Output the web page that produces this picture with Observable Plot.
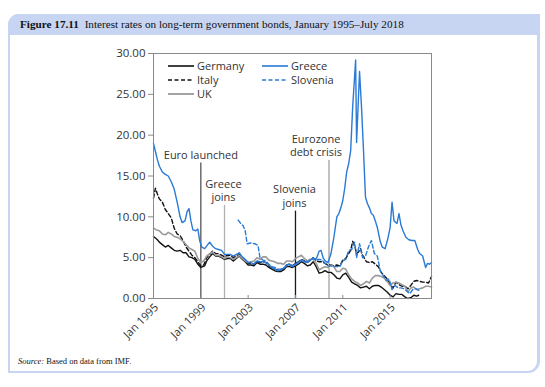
<!DOCTYPE html>
<html><head><meta charset="utf-8">
<script src="https://cdn.jsdelivr.net/npm/d3@7"></script>
<script src="https://cdn.jsdelivr.net/npm/@observablehq/plot@0.6"></script>
<style>
body{margin:0;background:#fff;width:545px;height:387px;position:relative;overflow:hidden;font-family:"Open Sans",sans-serif}
#box{position:absolute;left:8px;top:14px;width:532px;height:359px;border:2px solid #c8d5f2;border-right-width:3px;border-radius:11px 0 12px 0;box-sizing:border-box}
#head{position:absolute;left:8px;top:14px;width:532px;height:21px;background:#c8d5f2;border-radius:11px 0 0 0;font-family:"Liberation Serif",serif;font-size:11.2px;line-height:21px;color:#111;box-sizing:border-box;padding-left:12px;white-space:nowrap}
#head b{margin-right:3px}
#chart{position:absolute;left:0;top:35px}
#legend{position:absolute;left:0;top:0}
#source{position:absolute;left:18px;top:356px;font-family:"Liberation Serif",serif;font-size:8.5px;color:#111}
</style></head>
<body>
<div id="box"></div>
<div id="head"><b>Figure 17.11</b> Interest rates on long-term government bonds, January 1995–July 2018</div>
<div id="chart"></div>
<div id="source"><i>Source:</i> Based on data from IMF.</div>
<script>
const germany = [["1995-01",7.6],["1995-03",7.4],["1995-05",7.2],["1995-07",6.9],["1995-10",6.6],["1996-01",6.3],["1996-04",6.5],["1996-07",6.2],["1996-10",5.9],["1997-01",5.8],["1997-04",5.9],["1997-07",5.6],["1997-10",5.6],["1998-01",5.1],["1998-04",5.0],["1998-07",4.8],["1998-10",4.2],["1999-01",3.8],["1999-03",3.9],["1999-05",4.0],["1999-07",4.6],["1999-10",5.1],["2000-01",5.5],["2000-04",5.2],["2000-07",5.2],["2000-10",5.0],["2001-01",4.8],["2001-04",4.9],["2001-07",4.9],["2001-10",4.6],["2002-01",4.9],["2002-04",5.2],["2002-07",4.8],["2002-10",4.5],["2003-01",4.1],["2003-04",4.1],["2003-07",4.0],["2003-10",4.4],["2004-01",4.2],["2004-04",4.2],["2004-07",4.1],["2004-10",3.8],["2005-01",3.6],["2005-04",3.4],["2005-07",3.3],["2005-10",3.3],["2006-01",3.5],["2006-04",3.9],["2006-07",3.9],["2006-10",3.8],["2007-01",4.0],["2007-04",4.2],["2007-07",4.5],["2007-10",4.3],["2008-01",4.0],["2008-04",4.1],["2008-07",4.5],["2008-10",3.9],["2009-01",3.1],["2009-04",3.2],["2009-07",3.4],["2009-10",3.2],["2010-01",3.2],["2010-04",2.9],["2010-07",2.5],["2010-10",2.4],["2011-01",2.9],["2011-04",3.1],["2011-07",2.6],["2011-10",2.0],["2012-01",1.8],["2012-04",1.6],["2012-07",1.3],["2012-10",1.4],["2013-01",1.5],["2013-04",1.2],["2013-07",1.5],["2013-10",1.6],["2014-01",1.6],["2014-04",1.4],["2014-07",1.1],["2014-10",0.8],["2015-01",0.4],["2015-04",0.2],["2015-07",0.6],["2015-10",0.5],["2016-01",0.5],["2016-04",0.2],["2016-07",0.0],["2016-10",0.1],["2017-01",0.4],["2017-04",0.3],["2017-06",0.4]];

const italy = [["1995-01",12.3],["1995-03",13.5],["1995-05",12.8],["1995-07",12.2],["1995-10",11.8],["1996-01",10.9],["1996-04",10.4],["1996-07",9.9],["1996-10",8.6],["1997-01",7.9],["1997-04",7.7],["1997-07",7.1],["1997-10",6.3],["1998-01",5.8],["1998-04",5.3],["1998-07",5.0],["1998-10",4.5],["1999-01",4.0],["1999-04",4.1],["1999-07",5.0],["1999-10",5.4],["2000-01",5.8],["2000-04",5.5],["2000-07",5.5],["2000-10",5.3],["2001-01",5.1],["2001-04",5.3],["2001-07",5.3],["2001-10",5.0],["2002-01",5.2],["2002-04",5.4],["2002-07",5.0],["2002-10",4.7],["2003-01",4.3],["2003-04",4.3],["2003-07",4.2],["2003-10",4.6],["2004-01",4.4],["2004-04",4.5],["2004-07",4.4],["2004-10",4.0],["2005-01",3.8],["2005-04",3.6],["2005-07",3.5],["2005-10",3.5],["2006-01",3.7],["2006-04",4.1],["2006-07",4.2],["2006-10",4.0],["2007-01",4.3],["2007-04",4.5],["2007-07",4.8],["2007-10",4.6],["2008-01",4.4],["2008-04",4.7],["2008-07",5.0],["2008-10",4.6],["2009-01",4.5],["2009-04",4.5],["2009-07",4.3],["2009-10",4.1],["2010-01",4.1],["2010-04",4.0],["2010-07",4.1],["2010-10",4.0],["2011-01",4.7],["2011-04",4.9],["2011-07",5.5],["2011-09",5.9],["2011-11",7.0],["2012-01",6.5],["2012-03",5.5],["2012-05",5.7],["2012-07",6.1],["2012-09",5.3],["2012-11",4.9],["2013-01",4.5],["2013-04",4.4],["2013-07",4.5],["2013-10",4.2],["2014-01",3.9],["2014-04",3.2],["2014-07",2.8],["2014-10",2.4],["2015-01",1.7],["2015-04",1.3],["2015-07",2.0],["2015-10",1.7],["2016-01",1.5],["2016-04",1.5],["2016-07",1.2],["2016-10",1.6],["2017-01",2.1],["2017-04",2.2],["2017-07",2.1],["2017-10",2.0],["2018-01",2.0],["2018-04",1.9],["2018-07",2.7]];

const uk = [["1995-01",8.6],["1995-04",8.4],["1995-07",8.3],["1995-10",7.9],["1996-01",7.8],["1996-04",8.1],["1996-07",7.9],["1996-10",7.6],["1997-01",7.5],["1997-04",7.3],["1997-07",7.0],["1997-10",6.6],["1998-01",6.2],["1998-04",6.0],["1998-07",5.8],["1998-10",4.9],["1999-01",4.4],["1999-04",4.6],["1999-07",5.2],["1999-10",5.5],["2000-01",5.7],["2000-04",5.3],["2000-07",5.3],["2000-10",5.1],["2001-01",4.9],["2001-04",5.1],["2001-07",5.0],["2001-10",4.8],["2002-01",5.0],["2002-04",5.3],["2002-07",4.9],["2002-10",4.6],["2003-01",4.4],["2003-04",4.5],["2003-07",4.6],["2003-10",5.0],["2004-01",4.8],["2004-04",5.1],["2004-07",5.1],["2004-10",4.7],["2005-01",4.6],["2005-04",4.5],["2005-07",4.3],["2005-10",4.3],["2006-01",4.2],["2006-04",4.6],["2006-07",4.6],["2006-10",4.5],["2007-01",4.9],["2007-04",5.1],["2007-07",5.3],["2007-10",4.9],["2008-01",4.6],["2008-04",4.8],["2008-07",4.8],["2008-10",4.3],["2009-01",3.5],["2009-04",3.7],["2009-07",3.9],["2009-10",3.8],["2010-01",4.1],["2010-04",3.9],["2010-07",3.3],["2010-10",3.3],["2011-01",3.7],["2011-04",3.6],["2011-07",2.9],["2011-10",2.4],["2012-01",2.1],["2012-04",1.9],["2012-07",1.6],["2012-10",1.8],["2013-01",2.1],["2013-04",1.9],["2013-07",2.5],["2013-10",2.8],["2014-01",2.8],["2014-04",2.7],["2014-07",2.5],["2014-10",2.1],["2015-01",1.6],["2015-04",1.9],["2015-07",2.0],["2015-10",1.9],["2016-01",1.7],["2016-04",1.5],["2016-07",0.8],["2016-10",1.3],["2017-01",1.4],["2017-04",1.1],["2017-07",1.2],["2017-10",1.3],["2018-01",1.5],["2018-04",1.5],["2018-07",1.4]];

const greece = [["1995-01",19.0],["1995-03",18.0],["1995-05",17.0],["1995-07",16.2],["1995-10",15.5],["1996-01",15.2],["1996-04",15.0],["1996-07",14.3],["1996-10",13.4],["1997-01",11.8],["1997-04",10.0],["1997-06",9.3],["1997-09",9.5],["1997-11",10.6],["1998-01",11.0],["1998-03",9.5],["1998-05",8.4],["1998-08",8.3],["1998-10",8.5],["1998-12",7.0],["1999-02",6.3],["1999-05",6.1],["1999-08",6.6],["1999-10",6.9],["2000-01",6.4],["2000-04",6.1],["2000-07",6.0],["2000-10",5.9],["2001-01",5.4],["2001-04",5.4],["2001-07",5.4],["2001-10",5.2],["2002-01",5.4],["2002-04",5.6],["2002-07",5.1],["2002-10",4.8],["2003-01",4.4],["2003-04",4.4],["2003-07",4.2],["2003-10",4.6],["2004-01",4.5],["2004-04",4.5],["2004-07",4.4],["2004-10",4.1],["2005-01",3.8],["2005-04",3.6],["2005-07",3.4],["2005-10",3.5],["2006-01",3.7],["2006-04",4.1],["2006-07",4.2],["2006-10",4.0],["2007-01",4.2],["2007-04",4.5],["2007-07",4.7],["2007-10",4.5],["2008-01",4.4],["2008-04",4.7],["2008-07",4.9],["2008-10",4.8],["2009-01",5.8],["2009-03",5.9],["2009-05",5.0],["2009-07",4.6],["2009-10",4.4],["2010-01",5.5],["2010-04",7.5],["2010-07",10.0],["2010-09",10.4],["2010-11",11.1],["2011-01",12.0],["2011-03",13.5],["2011-05",15.5],["2011-07",16.5],["2011-09",18.1],["2011-11",23.4],["2012-02",29.2],["2012-03",19.1],["2012-06",27.8],["2012-08",23.4],["2012-10",18.1],["2012-12",12.4],["2013-02",11.6],["2013-04",11.1],["2013-06",10.4],["2013-08",10.2],["2013-10",9.5],["2013-12",8.7],["2014-03",7.0],["2014-05",6.3],["2014-08",6.1],["2014-11",7.5],["2015-01",8.7],["2015-03",11.8],["2015-05",9.5],["2015-08",9.2],["2015-10",10.4],["2015-12",9.0],["2016-02",8.3],["2016-05",7.5],["2016-08",7.2],["2016-11",7.1],["2017-02",7.1],["2017-05",6.0],["2017-07",5.5],["2017-10",5.2],["2018-01",3.8],["2018-03",4.3],["2018-05",4.2],["2018-07",4.4]];

const slovenia = [["2002-03",9.6],["2002-06",9.1],["2002-08",8.9],["2002-10",8.3],["2002-12",6.7],["2003-04",6.8],["2003-08",6.7],["2003-11",6.5],["2004-01",5.0],["2004-04",4.7],["2004-07",4.6],["2004-10",4.2],["2005-01",3.9],["2005-04",3.8],["2005-07",3.6],["2005-10",3.6],["2006-01",3.7],["2006-04",4.0],["2006-07",4.1],["2006-10",3.9],["2007-01",4.1],["2007-04",4.4],["2007-07",4.7],["2007-10",4.6],["2008-01",4.5],["2008-04",4.7],["2008-07",5.0],["2008-10",4.7],["2009-01",4.8],["2009-04",4.7],["2009-07",4.3],["2009-10",4.0],["2010-01",4.0],["2010-04",3.9],["2010-07",3.9],["2010-10",3.9],["2011-01",4.6],["2011-04",4.8],["2011-07",5.9],["2011-10",6.0],["2012-01",6.9],["2012-03",5.0],["2012-06",6.7],["2012-09",5.0],["2012-12",5.2],["2013-03",6.3],["2013-06",7.1],["2013-09",5.5],["2013-12",5.2],["2014-03",3.4],["2014-06",2.8],["2014-09",2.2],["2014-12",2.4],["2015-03",1.1],["2015-06",1.6],["2015-09",1.3],["2015-12",1.3],["2016-03",1.2],["2016-06",0.9],["2016-09",0.6],["2016-12",1.1],["2017-03",1.2],["2017-06",1.0]];

const seriesNames = ["Germany","Italy","UK","Greece","Slovenia"];
const seriesColors = ["#111111","#111111","#9a9a9a","#2a7ad6","#2a7ad6"];
const seriesDash = [null,"4,2.5",null,null,"4,2.5"];
const seriesWidth = [1.4,1.4,1.6,1.4,1.4];

const eventDates = ["1999-01","2001-01","2007-01","2009-11"];
const eventLabels = ["Euro launched","Greece\njoins","Slovenia\njoins","Eurozone\ndebt crisis"];
const eventTops = [16.6,11.4,10.7,16.9];
const eventColors = ["#555555","#b0b0b0","#1a1a1a","#a0a0a0"];
const eventLabelShift = [0,-1,-1,-13];

const yTicks = [0,5,10,15,20,25,30];
const xTickYears = ["1995-01","1999-01","2003-01","2007-01","2011-01","2015-01"];

const parse = d3.utcParse("%Y-%m");
const rows = [];
[germany, italy, uk, greece, slovenia].forEach((s, i) => s.forEach(([d, v]) => rows.push({name: seriesNames[i], date: parse(d), value: v})));
const events = eventDates.map((d, i) => ({date: parse(d), top: eventTops[i], label: eventLabels[i], color: eventColors[i], shift: eventLabelShift[i]}));
const xTicks = xTickYears.map(parse);

const font = '"Open Sans", sans-serif';
const plot = Plot.plot({
  width: 545, height: 318,
  marginLeft: 153, marginRight: 114, marginTop: 18, marginBottom: 55,
  style: {fontFamily: font, fontSize: "11px", color: "#333", background: "transparent"},
  x: {type: "utc", domain: [parse("1995-01"), parse("2018-07")]},
  y: {domain: [0, 30]},
  marks: [
    Plot.ruleX(events, {x: "date", y1: 0, y2: "top", stroke: "color", strokeWidth: 1.3}),
    ...seriesNames.map((n, i) => Plot.line(rows.filter(r => r.name === n), {
      x: "date", y: "value", stroke: seriesColors[i], strokeWidth: seriesWidth[i],
      strokeDasharray: seriesDash[i], strokeLinejoin: "round"
    })),
    ...events.map(e => Plot.text([e], {x: "date", y: "top", text: "label", lineAnchor: "bottom", dy: -4, dx: e.shift, fill: "#333", fontSize: 11, lineHeight: 1.25})),
    Plot.frame({stroke: "#8a8a8a", strokeWidth: 1}),
    Plot.axisY({ticks: yTicks, tickFormat: d3.format(".2f"), tickSize: 5, stroke: "#8a8a8a", fill: "#333", tickPadding: 3, fontSize: 11.5, label: null}),
    Plot.axisX({ticks: xTicks, tickFormat: () => "", tickSize: -3, stroke: "#8a8a8a", label: null}),
    Plot.axisX({ticks: xTicks, tickFormat: d3.utcFormat("Jan %Y"), tickRotate: -45, tickSize: 0, tickPadding: 7, dx: 3, fill: "#333", fontSize: 11, label: null})
  ]
});
document.getElementById("chart").appendChild(plot);

// legend
const leg = d3.select("body").append("svg").attr("id", "legend").attr("width", 545).attr("height", 387);
const legendPos = [[168, 66], [168, 80], [168, 94], [262, 66], [262, 80]];
seriesNames.forEach((n, i) => {
  const [lx, ly] = legendPos[i];
  leg.append("line").attr("x1", lx).attr("x2", lx + 26).attr("y1", ly).attr("y2", ly)
    .attr("stroke", seriesColors[i]).attr("stroke-width", seriesWidth[i] + 0.2)
    .attr("stroke-dasharray", seriesDash[i]);
  leg.append("text").attr("x", lx + 29).attr("y", ly).attr("dy", "0.35em")
    .attr("font-family", font).attr("font-size", 11).attr("fill", "#333").text(n);
});
</script>
</body></html>
